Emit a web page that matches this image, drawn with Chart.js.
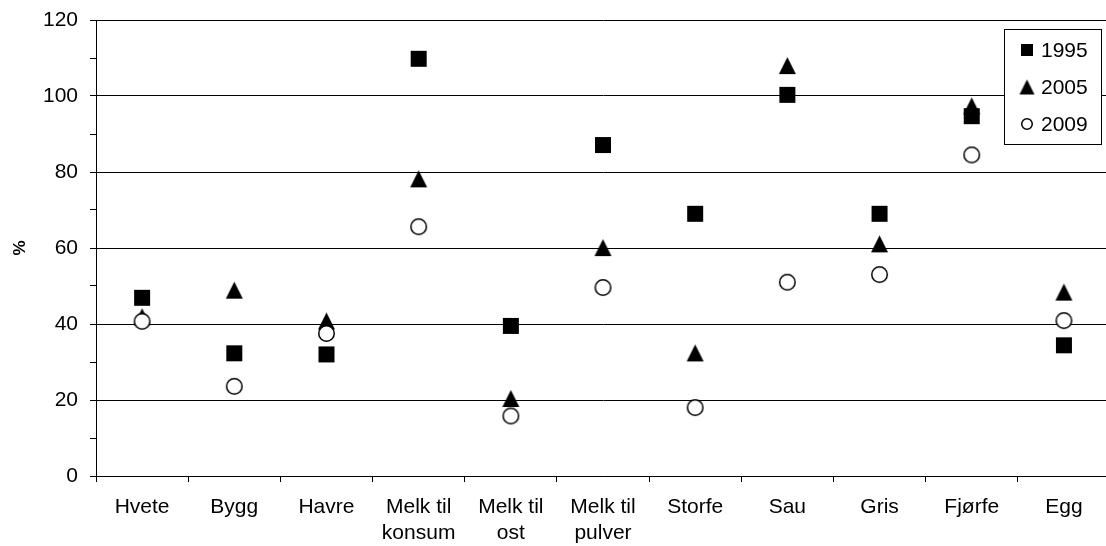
<!DOCTYPE html>
<html>
<head>
<meta charset="utf-8">
<script src="https://cdn.jsdelivr.net/npm/chart.js@4/dist/chart.umd.min.js"></script>
<style>
  html, body { margin: 0; padding: 0; background: #fff; overflow: hidden; }
  #wrap { width: 1120px; height: 546px; position: relative; }
  #c { display: block; }
</style>
</head>
<body>
<div id="wrap"><canvas id="c" width="1120" height="546"></canvas></div>
<script>
const categories = ['Hvete', 'Bygg', 'Havre', ['Melk til', 'konsum'], ['Melk til', 'ost'], ['Melk til', 'pulver'], 'Storfe', 'Sau', 'Gris', 'Fjørfe', 'Egg'];
const years = ['1995', '2005', '2009'];
const values1995 = [46.9, 32.3, 32.0, 109.8, 39.5, 87.1, 69.0, 100.3, 69.0, 94.7, 34.4];
const values2005 = [41.9, 48.9, 40.8, 78.2, 20.4, 60.1, 32.4, 108.0, 61.1, 97.4, 48.4];
const values2009 = [40.7, 23.6, 37.5, 65.6, 15.8, 49.6, 18.0, 51.0, 53.0, 84.5, 40.9];
const yTicks = { min: 0, max: 120, minor: 10, major: 20 };
const FONT = '"Liberation Sans", Arial, sans-serif';

// Marker sprites, drawn once and centred on each point
function sprite(kind, size) {
  const pad = 2;
  const c = document.createElement('canvas');
  c.width = size + pad * 2; c.height = size + pad * 2;
  const g = c.getContext('2d');
  const m = pad, s = size;
  g.fillStyle = '#000'; g.strokeStyle = '#000';
  if (kind === 'square') {
    g.fillRect(m, m, s, s);
  } else if (kind === 'triangle') {
    g.beginPath();
    g.moveTo(m + s / 2, m);
    g.lineTo(m + s, m + s);
    g.lineTo(m, m + s);
    g.closePath();
    g.fill();
  } else {
    g.beginPath();
    g.arc(m + s / 2, m + s / 2, s / 2 - 0.75, 0, Math.PI * 2);
    g.fillStyle = '#fff';
    g.fill();
    g.lineWidth = 1.5;
    g.stroke();
  }
  return c;
}
const markers = [sprite('square', 16), sprite('triangle', 17), sprite('circle', 17)];
const legendMarkers = [sprite('square', 12), sprite('triangle', 15), sprite('circle', 12)];

const series = [values1995, values2005, values2009];

// Boxed legend in the upper right corner of the plot
const boxLegend = {
  id: 'boxLegend',
  afterDraw(chart) {
    const ctx = chart.ctx;
    const x0 = 1004, y0 = 29, w = 97, h = 115;
    ctx.save();
    ctx.fillStyle = '#fff';
    ctx.fillRect(x0, y0, w, h);
    ctx.strokeStyle = '#000';
    ctx.lineWidth = 1;
    ctx.strokeRect(x0 + 0.5, y0 + 0.5, w, h);
    ctx.font = '21px ' + FONT;
    ctx.fillStyle = '#000';
    ctx.textBaseline = 'middle';
    chart.data.datasets.forEach((ds, i) => {
      const cy = y0 + 21 + i * 37;
      const img = legendMarkers[i];
      ctx.drawImage(img, 1027 - img.width / 2, cy - img.height / 2);
      ctx.fillText(ds.label, 1041, cy + 1);
    });
    ctx.restore();
  }
};

new Chart(document.getElementById('c'), {
  type: 'line',
  data: {
    labels: categories,
    datasets: series.map((vals, i) => ({
      label: years[i],
      data: vals,
      showLine: false,
      pointStyle: markers[i],
      pointRadius: 9,
      pointHoverRadius: 9,
      order: 2 - i
    }))
  },
  options: {
    responsive: false,
    animation: false,
    events: [],
    layout: { padding: { top: 20, right: 10, left: 0, bottom: 0 } },
    plugins: { legend: { display: false }, tooltip: { enabled: false } },
    scales: {
      x: {
        offset: true,
        grid: {
          offset: true,
          drawOnChartArea: false,
          tickLength: 6,
          tickColor: '#000'
        },
        border: { color: '#000', width: 1 },
        ticks: {
          color: '#000',
          font: { family: FONT, size: 21, lineHeight: 1.2 },
          padding: 13,
          maxRotation: 0,
          autoSkip: false
        },
        afterFit(scale) { scale.height = 70; scale.paddingLeft = 0; scale.paddingRight = 0; }
      },
      y: {
        min: yTicks.min,
        max: yTicks.max,
        title: {
          display: true,
          text: '%',
          color: '#000',
          font: { family: FONT, size: 17, weight: 'bold' },
          padding: { top: 10, bottom: 0 }
        },
        grid: {
          color: ctx => (ctx.tick && ctx.tick.value % yTicks.major === 0) ? '#000' : 'rgba(0,0,0,0)',
          tickColor: '#000',
          tickLength: 6
        },
        border: { color: '#000', width: 1 },
        ticks: {
          stepSize: yTicks.minor,
          color: '#000',
          font: { family: FONT, size: 21 },
          padding: 12,
          callback: v => (v % yTicks.major === 0 ? v : '')
        },
        afterFit(scale) { scale.width = 96; scale.paddingTop = 0; scale.paddingBottom = 0; }
      }
    }
  },
  plugins: [boxLegend]
});
</script>
</body>
</html>
